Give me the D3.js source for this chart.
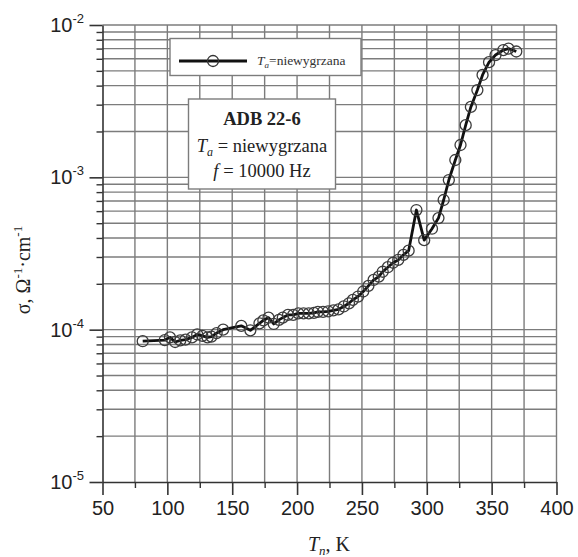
<!DOCTYPE html>
<html>
<head>
<meta charset="utf-8">
<script src="https://cdn.jsdelivr.net/npm/d3@7"></script>
<style>
  html, body { margin: 0; padding: 0; background: #fff; }
  svg { display: block; }
</style>
</head>
<body>
<svg id="chart" width="578" height="557"></svg>
<script>
// ---- data ----
const temperatures = [81, 98, 102, 106, 110, 114, 119, 123, 127, 131, 134, 138, 143, 157, 164, 171, 174, 178, 182, 186, 189, 193, 197, 201, 205, 209, 213, 216, 220, 224, 228, 232, 236, 240, 243, 247, 251, 255, 259, 263, 266, 270, 274, 278, 282, 286, 292, 298, 304, 309, 313, 317, 322, 326, 330, 334, 339, 343, 348, 353, 359, 363, 369];
const sigmaValues = [8.4e-5, 8.55e-5, 8.9e-5, 8.3e-5, 8.5e-5, 8.6e-5, 8.9e-5, 9.3e-5, 9.1e-5, 8.9e-5, 9.0e-5, 9.5e-5, 1.0e-4, 1.06e-4, 9.9e-5, 1.1e-4, 1.15e-4, 1.2e-4, 1.09e-4, 1.16e-4, 1.2e-4, 1.25e-4, 1.25e-4, 1.28e-4, 1.28e-4, 1.28e-4, 1.29e-4, 1.31e-4, 1.31e-4, 1.32e-4, 1.34e-4, 1.36e-4, 1.42e-4, 1.49e-4, 1.57e-4, 1.65e-4, 1.78e-4, 1.94e-4, 2.12e-4, 2.23e-4, 2.4e-4, 2.57e-4, 2.75e-4, 2.87e-4, 3.1e-4, 3.3e-4, 6.1e-4, 3.87e-4, 4.6e-4, 5.4e-4, 7.1e-4, 9.6e-4, 1.3e-3, 1.63e-3, 2.2e-3, 2.9e-3, 3.74e-3, 4.7e-3, 5.7e-3, 6.35e-3, 6.85e-3, 7.0e-3, 6.7e-3];
const xTickValues = [50, 100, 150, 200, 250, 300, 350, 400];
const xMinorTickValues = [75, 125, 175, 225, 275, 325, 375];
const yTickExponents = [-2, -3, -4, -5];
const legendLabel = "niewygrzana";
const annotationTitle = "ADB 22-6";
const annotationLine2 = "niewygrzana";
const annotationLine3 = "10000 Hz";

// ---- layout ----
const svg = d3.select("#chart");
const x = d3.scaleLinear().domain([50, 400]).range([102.5, 556.5]);
const y = d3.scaleLog().domain([1e-5, 1e-2]).range([482, 25]);

const gridColor = "#7c7c7c";
const axisColor = "#333";
const sans = "Liberation Sans, Arial, sans-serif";
const serif = "Liberation Serif, Times New Roman, serif";

// vertical grid lines every 25 K
const vGrid = d3.range(75, 401, 25);
svg.append("g").selectAll("line").data(vGrid).join("line")
  .attr("x1", d => x(d)).attr("x2", d => x(d))
  .attr("y1", y(1e-5)).attr("y2", y(1e-2))
  .attr("stroke", gridColor).attr("stroke-width", 1.4);

// horizontal grid lines at 1..9 x 10^k
const hGrid = [];
for (let e = -5; e < -2; e++) for (let m = 1; m <= 9; m++) hGrid.push(m * Math.pow(10, e));
hGrid.push(1e-2);
svg.append("g").selectAll("line").data(hGrid.filter(v => v > 1e-5)).join("line")
  .attr("x1", x(50)).attr("x2", x(400))
  .attr("y1", d => y(d)).attr("y2", d => y(d))
  .attr("stroke", gridColor).attr("stroke-width", 1.4);

// bottom axis
const xAxis = d3.axisBottom(x).tickValues(xTickValues).tickSize(13).tickSizeOuter(0).tickPadding(6);
const gx = svg.append("g").attr("transform", `translate(0,${y(1e-5)})`).call(xAxis);
gx.select(".domain").attr("stroke", axisColor).attr("stroke-width", 1.6);
gx.selectAll(".tick line").attr("stroke", axisColor).attr("stroke-width", 1.6);
gx.selectAll(".tick text").attr("font-family", sans).attr("font-size", 20).attr("fill", "#222");
const xMinor = d3.axisBottom(x).tickValues(xMinorTickValues).tickSize(6).tickSizeOuter(0).tickFormat("");
const gxm = svg.append("g").attr("transform", `translate(0,${y(1e-5)})`).call(xMinor);
gxm.select(".domain").remove();
gxm.selectAll(".tick line").attr("stroke", axisColor).attr("stroke-width", 1.4);

// left axis
const yAxis = d3.axisLeft(y).tickValues(yTickExponents.map(e => Math.pow(10, e))).tickSize(13).tickSizeOuter(0).tickFormat("");
const gy = svg.append("g").attr("transform", `translate(${x(50)},0)`).call(yAxis);
gy.select(".domain").attr("stroke", axisColor).attr("stroke-width", 1.6);
gy.selectAll(".tick line").attr("stroke", axisColor).attr("stroke-width", 1.6);
const yMinorVals = hGrid.filter(v => Math.abs(Math.log10(v) - Math.round(Math.log10(v))) > 1e-6);
const gym = svg.append("g").attr("transform", `translate(${x(50)},0)`).call(d3.axisLeft(y).tickValues(yMinorVals).tickSize(6).tickSizeOuter(0).tickFormat(""));
gym.select(".domain").remove();
gym.selectAll(".tick line").attr("stroke", axisColor).attr("stroke-width", 1.4);

// y tick labels with superscripts
const yl = svg.append("g").attr("font-family", sans).attr("fill", "#222");
yTickExponents.forEach(e => {
  const t = yl.append("text").attr("x", 84).attr("y", y(Math.pow(10, e)) + 7).attr("text-anchor", "end");
  t.append("tspan").attr("font-size", 20).text("10");
  t.append("tspan").attr("font-size", 13).attr("dy", -9).text("-" + (-e));
});

// axis titles
const xt = svg.append("text").attr("x", 329).attr("y", 551).attr("text-anchor", "middle")
  .attr("font-family", serif).attr("font-size", 20).attr("fill", "#222");
xt.append("tspan").attr("font-style", "italic").text("T");
xt.append("tspan").attr("font-style", "italic").attr("font-size", 13).attr("dy", 4).text("n");
xt.append("tspan").attr("dy", -4).text(", K");

const yt = svg.append("text").attr("transform", "translate(30,270) rotate(-90)").attr("text-anchor", "middle")
  .attr("font-family", serif).attr("font-size", 20).attr("fill", "#222");
yt.append("tspan").text("σ, Ω");
yt.append("tspan").attr("font-size", 13).attr("dy", -8).text("-1");
yt.append("tspan").attr("dy", 8).text("·cm");
yt.append("tspan").attr("font-size", 13).attr("dy", -8).text("-1");

// data line + markers
const pts = temperatures.map((t, i) => [t, sigmaValues[i]]);
svg.append("path").datum(pts)
  .attr("d", d3.line().x(d => x(d[0])).y(d => y(d[1])))
  .attr("fill", "none").attr("stroke", "#111").attr("stroke-width", 2.8).attr("stroke-linejoin", "round");
svg.append("g").selectAll("circle").data(pts).join("circle")
  .attr("cx", d => x(d[0])).attr("cy", d => y(d[1])).attr("r", 5.5)
  .attr("fill", "none").attr("stroke", "#3c3c3c").attr("stroke-width", 1.3);

// legend
const lg = svg.append("g");
lg.append("rect").attr("x", 170).attr("y", 38.5).attr("width", 191).attr("height", 37)
  .attr("fill", "#fff").attr("stroke", "#7c7c7c").attr("stroke-width", 1.4);
lg.append("line").attr("x1", 179).attr("x2", 247).attr("y1", 61).attr("y2", 61).attr("stroke", "#111").attr("stroke-width", 2.8);
lg.append("circle").attr("cx", 213).attr("cy", 61).attr("r", 5.5).attr("fill", "none").attr("stroke", "#333").attr("stroke-width", 1.3);
const lt = lg.append("text").attr("x", 257).attr("y", 65).attr("font-family", serif).attr("font-size", 13.5).attr("fill", "#333");
lt.append("tspan").attr("font-style", "italic").text("T");
lt.append("tspan").attr("font-style", "italic").attr("font-size", 9).attr("dy", 3).text("a");
lt.append("tspan").attr("dy", -3).text("=" + legendLabel);

// annotation box
const ab = svg.append("g");
ab.append("rect").attr("x", 188.5).attr("y", 99).attr("width", 147).attr("height", 90)
  .attr("fill", "#fff").attr("stroke", "#7c7c7c").attr("stroke-width", 1.4);
ab.append("text").attr("x", 262).attr("y", 125).attr("text-anchor", "middle").attr("font-family", serif)
  .attr("font-size", 18.5).attr("font-weight", "bold").attr("fill", "#222").text(annotationTitle);
const a2 = ab.append("text").attr("x", 262).attr("y", 152).attr("text-anchor", "middle").attr("font-family", serif)
  .attr("font-size", 18.5).attr("fill", "#222");
a2.append("tspan").attr("font-style", "italic").text("T");
a2.append("tspan").attr("font-style", "italic").attr("font-size", 12).attr("dy", 4).text("a");
a2.append("tspan").attr("dy", -4).text(" = " + annotationLine2);
const a3 = ab.append("text").attr("x", 262).attr("y", 177).attr("text-anchor", "middle").attr("font-family", serif)
  .attr("font-size", 18.5).attr("fill", "#222");
a3.append("tspan").attr("font-style", "italic").text("f");
a3.append("tspan").text(" = " + annotationLine3);
</script>
</body>
</html>
